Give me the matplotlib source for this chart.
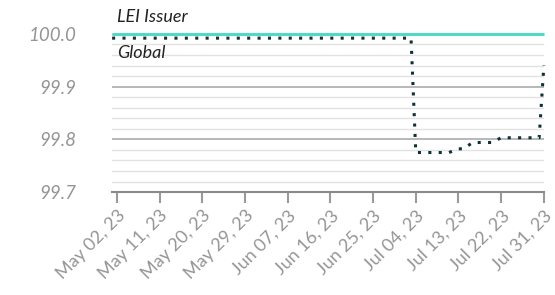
import matplotlib
matplotlib.use('Agg')
import pandas as pd
from matplotlib import pyplot as plt

# Global series: change points
global_dates = ['2023-05-01', '2023-07-03', '2023-07-04', '2023-07-11', '2023-07-13',
                '2023-07-14', '2023-07-16', '2023-07-20', '2023-07-22', '2023-07-30',
                '2023-07-31']
global_values = [99.992, 99.992, 99.775, 99.775, 99.782,
                 99.782, 99.794, 99.794, 99.803, 99.803,
                 99.941]

# LEI Issuer series
issuer_dates = ['2023-05-01', '2023-07-31']
issuer_values = [100.0, 100.0]

tick_dates = pd.date_range('2023-05-02', '2023-07-31', freq='9D')
tick_labels = [d.strftime('%b %d, %y') for d in tick_dates]

fig = plt.figure(figsize=(5.55, 2.95), dpi=100)
ax = fig.add_axes([0.202, 0.349, 0.778, 0.536])

ax.plot(pd.to_datetime(issuer_dates), issuer_values, color='#4fd9c6', lw=2.2,
        solid_capstyle='butt', clip_on=False, zorder=3)
ax.plot(pd.to_datetime(global_dates), global_values, color='#0c3136', lw=2.2,
        linestyle=(0, (1, 2.4)), clip_on=False, zorder=4)

ax.set_xlim(pd.Timestamp('2023-05-01'), pd.Timestamp('2023-07-31'))
ax.set_ylim(99.7, 100.0)

ax.set_yticks([99.7, 99.8, 99.9, 100.0])
ax.set_yticklabels(['99.7', '99.8', '99.9', '100.0'])
ax.set_yticks([99.72 + 0.02 * i for i in range(15)], minor=True)
ax.yaxis.grid(True, which='minor', color='#e2e2e2', lw=1)
ax.yaxis.grid(True, which='major', color='#ababab', lw=1.2)
ax.tick_params(axis='y', which='both', length=0, pad=26, labelsize=13.5,
               labelcolor='#959595')
for lbl in ax.get_yticklabels():
    lbl.set_fontstyle('italic')
    lbl.set_fontfamily('Lato')

ax.set_xticks(tick_dates)
ax.set_xticklabels(tick_labels, rotation=45, ha='right', rotation_mode='anchor',
                   fontsize=13, color='#959595', fontfamily='Lato')
ax.tick_params(axis='x', length=8, width=1.5, color='#9a9a9a', pad=3)

for side in ['top', 'right', 'left']:
    ax.spines[side].set_visible(False)
ax.spines['bottom'].set_color('#8a8a8a')
ax.spines['bottom'].set_linewidth(1.5)

fig.text(0.211, 0.942, 'LEI Issuer', fontsize=13, style='italic',
         color='#222222', fontfamily='Lato', va='center')
fig.text(0.211, 0.82, 'Global', fontsize=13, style='italic',
         color='#222222', fontfamily='Lato', va='center')

plt.savefig('out.png', dpi=100)
